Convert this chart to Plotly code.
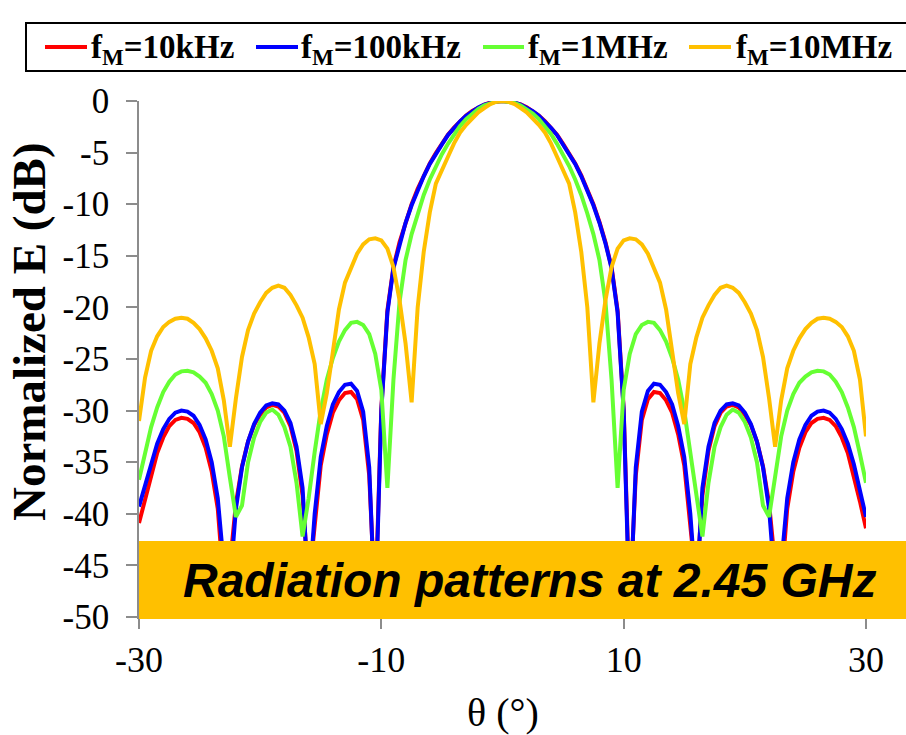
import plotly.graph_objects as go

# ---------------- data ----------------
THETA = [
    -30.0, -29.5, -29.0, -28.5, -28.0, -27.5, -27.0, -26.5, -26.0, -25.5,
    -25.0, -24.5, -24.0, -23.5, -23.0, -22.5, -22.0, -21.5, -21.0, -20.5,
    -20.0, -19.5, -19.0, -18.5, -18.0, -17.5, -17.0, -16.5, -16.0, -15.5,
    -15.0, -14.5, -14.0, -13.5, -13.0, -12.5, -12.0, -11.5, -11.0, -10.5,
    -10.0, -9.5, -9.0, -8.5, -8.0, -7.5, -7.0, -6.5, -6.0, -5.5,
    -5.0, -4.5, -4.0, -3.5, -3.0, -2.5, -2.0, -1.5, -1.0, -0.5,
    0.0,
    0.5, 1.0, 1.5, 2.0, 2.5, 3.0, 3.5, 4.0, 4.5, 5.0,
    5.5, 6.0, 6.5, 7.0, 7.5, 8.0, 8.5, 9.0, 9.5, 10.0,
    10.5, 11.0, 11.5, 12.0, 12.5, 13.0, 13.5, 14.0, 14.5, 15.0,
    15.5, 16.0, 16.5, 17.0, 17.5, 18.0, 18.5, 19.0, 19.5, 20.0,
    20.5, 21.0, 21.5, 22.0, 22.5, 23.0, 23.5, 24.0, 24.5, 25.0,
    25.5, 26.0, 26.5, 27.0, 27.5, 28.0, 28.5, 29.0, 29.5, 30.0,
]

E_10KHZ = [
    -40.9, -38.6, -36.3, -34.1, -32.6, -31.5, -30.9, -30.7, -30.8, -31.2,
    -32.1, -33.6, -35.9, -39.5, -47.0, -45.0, -39.0, -35.4, -33.0, -31.4,
    -30.4, -29.7, -29.45, -29.6, -30.2, -31.5, -33.9, -38.2, -47.0, -41.0,
    -35.3, -32.3, -30.2, -29.0, -28.3, -28.2, -28.9, -30.9, -36.3, -49.0,
    -29.8, -20.3, -16.1, -13.7, -11.7, -10.0, -8.5, -7.2, -6.05, -5.05,
    -4.15, -3.27, -2.57, -1.95, -1.41, -0.97, -0.61, -0.34, -0.15, -0.04,
    0.0,
    -0.04, -0.15, -0.34, -0.61, -0.97, -1.41, -1.95, -2.57, -3.27, -4.15,
    -5.05, -6.05, -7.2, -8.5, -10.0, -11.7, -13.7, -16.1, -20.3, -29.8,
    -49.0, -36.3, -30.9, -28.9, -28.2, -28.3, -29.0, -30.2, -32.3, -35.3,
    -41.0, -47.0, -38.2, -33.9, -31.5, -30.2, -29.6, -29.45, -29.7, -30.4,
    -31.4, -33.0, -35.4, -39.0, -45.0, -47.0, -39.5, -35.9, -33.6, -32.1,
    -31.2, -30.8, -30.7, -30.9, -31.5, -32.6, -34.1, -36.3, -38.8, -41.4,
]

E_100KHZ = [
    -39.3, -37.2, -35.2, -33.2, -31.8, -30.8, -30.2, -30.0, -30.1, -30.5,
    -31.4, -32.8, -35.0, -38.5, -45.0, -47.0, -39.5, -35.5, -33.0, -31.3,
    -30.2, -29.5, -29.3, -29.4, -30.0, -31.2, -33.5, -37.5, -48.0, -40.0,
    -34.5, -31.5, -29.4, -28.2, -27.5, -27.4, -28.1, -30.1, -35.5, -50.0,
    -30.0, -20.5, -16.2, -13.8, -11.8, -10.1, -8.6, -7.3, -6.1, -5.1,
    -4.2, -3.3, -2.6, -1.97, -1.43, -0.98, -0.62, -0.35, -0.15, -0.04,
    0.0,
    -0.04, -0.15, -0.35, -0.62, -0.98, -1.43, -1.97, -2.6, -3.3, -4.2,
    -5.1, -6.1, -7.3, -8.6, -10.1, -11.8, -13.8, -16.2, -20.5, -30.0,
    -50.0, -35.5, -30.1, -28.1, -27.4, -27.5, -28.2, -29.4, -31.5, -34.5,
    -40.0, -48.0, -37.5, -33.5, -31.2, -30.0, -29.4, -29.3, -29.5, -30.2,
    -31.3, -33.0, -35.5, -39.5, -47.0, -45.0, -38.5, -35.0, -32.8, -31.4,
    -30.5, -30.1, -30.0, -30.2, -30.8, -31.8, -33.2, -35.2, -37.6, -40.3,
]

E_1MHZ = [
    -36.7, -34.0, -31.6, -29.7, -28.2, -27.2, -26.5, -26.2, -26.15, -26.3,
    -26.7, -27.3, -28.4, -30.0, -32.5, -36.5, -40.3, -39.2, -35.0, -32.6,
    -31.1, -30.2, -29.9, -30.4, -31.6, -33.5, -37.0, -42.2, -38.5, -34.0,
    -30.0, -27.0, -24.9, -23.3, -22.2, -21.5, -21.4, -21.7, -22.6, -24.5,
    -28.0, -37.5, -27.0, -19.5, -15.4, -12.9, -10.9, -9.1, -7.6, -6.3,
    -5.15, -4.15, -3.2, -2.43, -1.76, -1.21, -0.77, -0.43, -0.19, -0.05,
    0.0,
    -0.05, -0.19, -0.43, -0.77, -1.21, -1.76, -2.43, -3.2, -4.15, -5.15,
    -6.3, -7.6, -9.1, -10.9, -12.9, -15.4, -19.5, -27.0, -37.5, -28.0,
    -24.5, -22.6, -21.7, -21.4, -21.5, -22.2, -23.3, -24.9, -27.0, -30.0,
    -34.0, -38.5, -42.2, -37.0, -33.5, -31.6, -30.4, -29.9, -30.2, -31.1,
    -32.6, -35.0, -39.2, -40.3, -36.5, -32.5, -30.0, -28.4, -27.3, -26.7,
    -26.3, -26.15, -26.2, -26.5, -27.2, -28.2, -29.7, -31.6, -34.2, -37.0,
]

E_10MHZ = [
    -31.0, -26.8, -24.2, -22.8, -21.9, -21.4, -21.1, -21.0, -21.1, -21.5,
    -22.1, -23.0, -24.2, -25.9, -29.0, -33.5, -28.8, -24.8, -22.2, -20.6,
    -19.5, -18.6, -18.1, -17.9, -18.1, -18.8, -19.8, -21.0, -22.9, -25.5,
    -31.3, -28.3, -24.3, -20.2, -17.6, -16.1, -14.8, -13.9, -13.4, -13.3,
    -13.5, -14.3, -16.1, -19.3, -23.5, -29.2, -20.0, -14.6, -10.8, -8.0,
    -6.6, -5.4, -4.1, -3.05, -2.3, -1.7, -1.1, -0.68, -0.3, -0.07,
    0.0,
    -0.07, -0.3, -0.68, -1.1, -1.7, -2.3, -3.05, -4.1, -5.4, -6.6,
    -8.0, -10.8, -14.6, -20.0, -29.2, -23.5, -19.3, -16.1, -14.3, -13.5,
    -13.3, -13.4, -13.9, -14.8, -16.1, -17.6, -20.2, -24.3, -28.3, -31.3,
    -25.5, -22.9, -21.0, -19.8, -18.8, -18.1, -17.9, -18.1, -18.6, -19.5,
    -20.6, -22.2, -24.8, -28.8, -33.5, -29.0, -25.9, -24.2, -23.0, -22.1,
    -21.5, -21.1, -21.0, -21.1, -21.4, -21.9, -22.8, -24.2, -27.0, -32.5,
]

SERIES_NAMES = [
    "f<sub>M</sub>=10kHz",
    "f<sub>M</sub>=100kHz",
    "f<sub>M</sub>=1MHz",
    "f<sub>M</sub>=10MHz",
]
SERIES_VALUES = [E_10KHZ, E_100KHZ, E_1MHZ, E_10MHZ]
SERIES_COLORS = ["#FF0000", "#0000FF", "#66FF33", "#FFC000"]

X_TICKS = [-30, -10, 10, 30]
X_TICK_TEXT = ["-30", "-10", "10", "30"]
Y_TICKS = [0, -5, -10, -15, -20, -25, -30, -35, -40, -45, -50]
Y_TICK_TEXT = ["0", "-5", "-10", "-15", "-20", "-25", "-30", "-35", "-40", "-45", "-50"]
Y_MINOR = list(range(-50, 1))

BANNER_TEXT = "Radiation patterns at 2.45 GHz"
X_TITLE = "θ (°)"
Y_TITLE = "Normalized E (dB)"

# ---------------- layout geometry (pixels) ----------------
W, H = 906, 735
ML, MR, MT, MB = 139, 40, 101, 118
PW, PH = W - ML - MR, H - MT - MB


def px_x(p):
    return (p - ML) / PW


def px_y(p):
    return (H - MB - p) / PH


SERIF = "Liberation Serif"
SANS = "Liberation Sans"
AXIS_GRAY = "#8C8C8C"

fig = go.Figure()
for name, vals, color in zip(SERIES_NAMES, SERIES_VALUES, SERIES_COLORS):
    fig.add_trace(go.Scatter(
        x=THETA, y=vals, mode="lines", name=name,
        line=dict(color=color, width=4), showlegend=False,
    ))

shapes = []
annotations = []

# gold banner across the bottom of the plot
shapes.append(dict(
    type="rect", xref="paper", yref="paper",
    x0=px_x(139), x1=px_x(940), y0=px_y(619), y1=px_y(541),
    fillcolor="#FFC000", line=dict(width=0), layer="above",
))
annotations.append(dict(
    xref="paper", yref="paper", x=px_x(530), y=px_y(580),
    xanchor="center", yanchor="middle", showarrow=False,
    text="<b><i>" + BANNER_TEXT + "</i></b>",
    font=dict(family=SANS, size=48, color="#000000"),
))

# legend frame, line samples and labels
shapes.append(dict(
    type="rect", xref="paper", yref="paper",
    x0=px_x(26), x1=px_x(940), y0=px_y(71), y1=px_y(23),
    fillcolor="white", line=dict(color="#000000", width=2), layer="above",
))
legend_lines = [(45, 87), (256, 298), (483, 524), (689, 731)]
legend_text_x = [89, 299, 526, 734]
for (l0, l1), tx, name, color in zip(legend_lines, legend_text_x, SERIES_NAMES, SERIES_COLORS):
    shapes.append(dict(
        type="line", xref="paper", yref="paper",
        x0=px_x(l0), x1=px_x(l1), y0=px_y(47), y1=px_y(47),
        line=dict(color=color, width=4), layer="above",
    ))
    annotations.append(dict(
        xref="paper", yref="paper", x=px_x(tx), y=px_y(49),
        xanchor="left", yanchor="middle", showarrow=False,
        text="<b>" + name + "</b>",
        font=dict(family=SERIF, size=33, color="#000000"),
    ))

# axis titles
annotations.append(dict(
    xref="paper", yref="paper", x=px_x(29), y=px_y(332),
    xanchor="center", yanchor="middle", showarrow=False, textangle=-90,
    text="<b>" + Y_TITLE + "</b>",
    font=dict(family=SERIF, size=47, color="#000000"),
))
annotations.append(dict(
    xref="paper", yref="paper", x=px_x(503), y=px_y(713),
    xanchor="center", yanchor="middle", showarrow=False,
    text=X_TITLE,
    font=dict(family=SERIF, size=40, color="#000000"),
))

fig.update_layout(
    width=W, height=H,
    margin=dict(l=ML, r=MR, t=MT, b=MB, pad=0),
    paper_bgcolor="white", plot_bgcolor="white",
    showlegend=False,
    shapes=shapes, annotations=annotations,
    xaxis=dict(
        range=[-30, 30], tickvals=X_TICKS, ticktext=X_TICK_TEXT,
        ticks="outside", ticklen=10, tickwidth=1.5, tickcolor=AXIS_GRAY,
        showline=True, linecolor=AXIS_GRAY, linewidth=1.5,
        showgrid=False, zeroline=False,
        tickfont=dict(family=SERIF, size=36, color="#000000"),
    ),
    yaxis=dict(
        range=[-50, 0], tickvals=Y_TICKS, ticktext=Y_TICK_TEXT,
        ticks="outside", ticklen=11, tickwidth=1.5, tickcolor=AXIS_GRAY,
        showline=True, linecolor=AXIS_GRAY, linewidth=1.5,
        showgrid=False, zeroline=False, ticklabelstandoff=10,
        tickfont=dict(family=SERIF, size=35, color="#000000"),
    ),
    yaxis2=dict(
        range=[-50, 0], overlaying="y", anchor="x", side="left",
        tickvals=Y_MINOR, ticks="inside", ticklen=8, tickwidth=1.5,
        tickcolor=AXIS_GRAY, showticklabels=False,
        showline=False, showgrid=False, zeroline=False,
    ),
)

fig.write_html("out.html")
